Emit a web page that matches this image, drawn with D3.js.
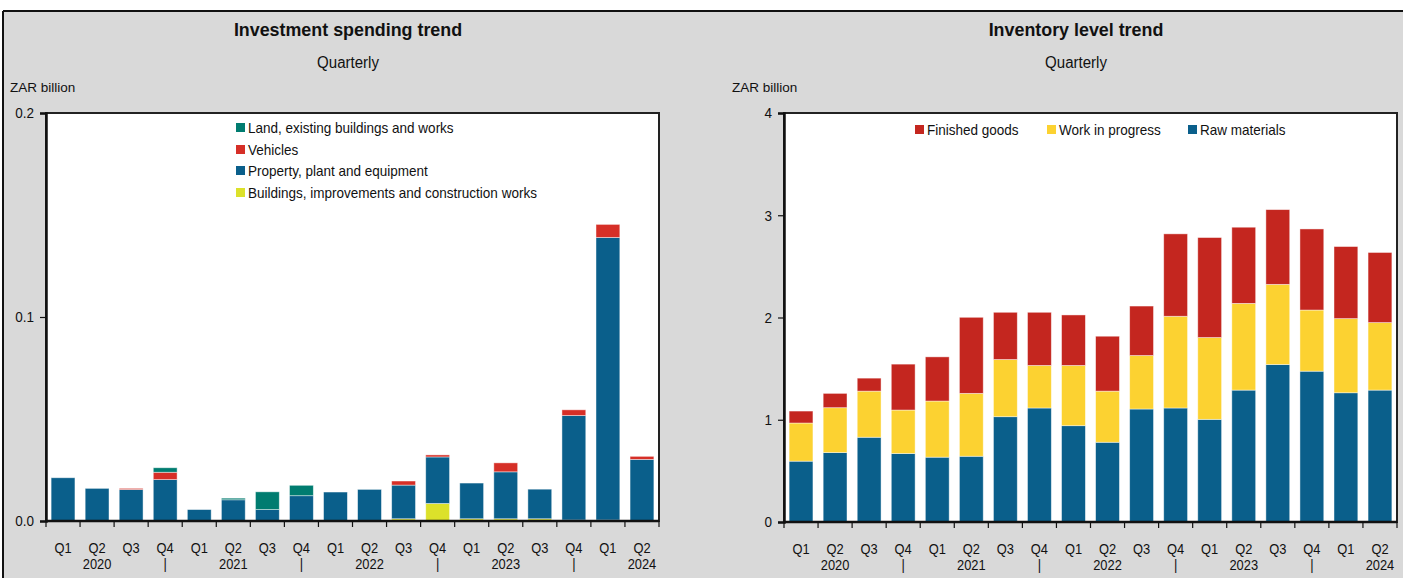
<!DOCTYPE html>
<html>
<head>
<meta charset="utf-8">
<script src="https://cdn.jsdelivr.net/npm/d3@7"></script>
<style>
  body { margin: 0; background: #fff; }
  text { font-family: "Liberation Sans Narrow", "Arial Narrow", "Liberation Sans", sans-serif; fill: #111; }
</style>
</head>
<body>
<div id="chart"></div>
<script>
// quarters and year row
const quarters = ["Q1","Q2","Q3","Q4","Q1","Q2","Q3","Q4","Q1","Q2","Q3","Q4","Q1","Q2","Q3","Q4","Q1","Q2"];
const yearRow  = ["","2020","","|","","2021","","|","","2022","","|","","2023","","|","","2024"];

// left chart: investment spending (ZAR billion)
const investKeys = ["Buildings, improvements and construction works", "Property, plant and equipment", "Vehicles", "Land, existing buildings and works"];
const buildings = [0, 0, 0, 0, 0, 0, 0, 0.0003, 0.0003, 0.0003, 0.0011, 0.0086, 0.0011, 0.0011, 0.0011, 0.0005, 0.0005, 0];
const ppe       = [0.0212, 0.016, 0.0154, 0.0203, 0.0056, 0.0104, 0.0056, 0.0121, 0.0139, 0.0152, 0.0165, 0.0228, 0.0175, 0.0230, 0.0145, 0.0512, 0.1385, 0.0302];
const vehicles  = [0, 0, 0.0006, 0.0036, 0, 0, 0, 0, 0, 0, 0.0020, 0.0010, 0, 0.0044, 0, 0.0028, 0.0064, 0.0015];
const land      = [0, 0, 0, 0.0022, 0, 0.0008, 0.0087, 0.0051, 0, 0, 0, 0, 0, 0, 0, 0, 0, 0];
const investTicks = [0, 0.1, 0.2];

// right chart: inventory levels (ZAR billion)
const invKeys = ["Raw materials", "Work in progress", "Finished goods"];
const rawMaterials = [0.595, 0.679, 0.829, 0.670, 0.634, 0.643, 1.030, 1.115, 0.942, 0.780, 1.105, 1.115, 1.004, 1.290, 1.540, 1.475, 1.264, 1.290];
const workInProgress = [0.373, 0.439, 0.451, 0.425, 0.549, 0.615, 0.559, 0.416, 0.589, 0.500, 0.523, 0.897, 0.800, 0.848, 0.784, 0.598, 0.725, 0.660];
const finishedGoods = [0.117, 0.140, 0.127, 0.449, 0.432, 0.744, 0.462, 0.520, 0.494, 0.537, 0.484, 0.806, 0.978, 0.745, 0.731, 0.793, 0.705, 0.686];
const invTicks = [0, 1, 2, 3, 4];

const W = 1403, H = 578;
const svg = d3.select("#chart").append("svg")
    .attr("width", W).attr("height", H);

// squeeze text horizontally, the original uses a narrow font
function condense(sel, f) {
    sel.each(function () {
        const w = this.getComputedTextLength();
        if (w > 0) d3.select(this).attr("textLength", w * f).attr("lengthAdjust", "spacingAndGlyphs");
    });
}

// grey backdrop with the dark frame on top/left
svg.append("rect").attr("x", 3).attr("y", 11).attr("width", W - 3).attr("height", H - 11).attr("fill", "#d9d9d9");
svg.append("line").attr("x1", 3).attr("x2", W).attr("y1", 11).attr("y2", 11).attr("stroke", "#111").attr("stroke-width", 2);
svg.append("line").attr("x1", 3).attr("x2", 3).attr("y1", 11).attr("y2", H).attr("stroke", "#111").attr("stroke-width", 2);

function drawPanel(opt) {
    const rows = quarters.map((q, i) => {
        const r = { idx: i };
        opt.keys.forEach((k, j) => r[k] = opt.series[j][i]);
        return r;
    });

    const x = d3.scaleBand()
        .domain(d3.range(quarters.length))
        .range([opt.left, opt.right])
        .paddingInner(0.3)
        .paddingOuter(0.15);

    const y = d3.scaleLinear()
        .domain([0, opt.max])
        .range([opt.bottom, opt.top]);

    // titles
    svg.append("text").attr("x", opt.titleX).attr("y", 36)
        .attr("text-anchor", "middle").attr("font-size", "19px").attr("font-weight", "bold")
        .text(opt.title)
        .call(condense, 0.94);
    svg.append("text").attr("x", opt.titleX).attr("y", 68)
        .attr("text-anchor", "middle").attr("font-size", "16px")
        .text("Quarterly")
        .call(condense, 0.94);
    svg.append("text").attr("x", opt.unitX).attr("y", 92)
        .attr("font-size", "13.5px")
        .text("ZAR billion");

    // plot area
    svg.append("rect")
        .attr("x", opt.left).attr("y", opt.top)
        .attr("width", opt.right - opt.left).attr("height", opt.bottom - opt.top)
        .attr("fill", "#fff").attr("stroke", "#222").attr("stroke-width", 2);

    const stacked = d3.stack().keys(opt.keys)(rows);

    svg.append("g")
        .selectAll("g")
        .data(stacked)
        .join("g")
            .attr("fill", d => opt.colors[d.key])
        .selectAll("rect")
        .data(d => d)
        .join("rect")
            .attr("x", d => x(d.data.idx))
            .attr("y", d => y(d[1]))
            .attr("width", x.bandwidth())
            .attr("height", d => Math.max(0, y(d[0]) - y(d[1])))
            .attr("stroke", "rgba(255,255,255,0.55)")
            .attr("stroke-width", 0.8);

    // y axis
    const yAxis = svg.append("g")
        .attr("transform", `translate(${opt.left},0)`)
        .call(d3.axisLeft(y).tickValues(opt.ticks).tickSize(6).tickPadding(6).tickFormat(opt.fmt));
    yAxis.select(".domain").attr("stroke", "#111").attr("stroke-width", 2.5);
    yAxis.selectAll(".tick line").attr("stroke", "#111").attr("stroke-width", 1.2);
    yAxis.selectAll(".tick text").attr("font-size", "15px").attr("fill", "#111")
        .style("font-family", "'Liberation Sans Narrow', 'Arial Narrow', 'Liberation Sans', sans-serif")
        .call(condense, 0.9);

    // x axis: ticks at band boundaries
    const edges = d3.range(quarters.length + 1).map(i => opt.left + i * (opt.right - opt.left) / quarters.length);
    svg.append("line")
        .attr("x1", opt.left).attr("x2", opt.right)
        .attr("y1", opt.bottom).attr("y2", opt.bottom)
        .attr("stroke", "#111").attr("stroke-width", 2.5);
    svg.append("g").selectAll("line")
        .data(edges)
        .join("line")
            .attr("x1", d => d).attr("x2", d => d)
            .attr("y1", opt.bottom).attr("y2", opt.bottom + 6)
            .attr("stroke", "#111").attr("stroke-width", 1.2);

    svg.append("g").selectAll("text")
        .data(quarters)
        .join("text")
            .attr("x", (d, i) => x(i) + x.bandwidth() / 2)
            .attr("y", opt.bottom + 32)
            .attr("text-anchor", "middle")
            .attr("font-size", "14px")
            .text(d => d)
            .call(condense, 0.92);

    svg.append("g").selectAll("text")
        .data(yearRow)
        .join("text")
            .attr("x", (d, i) => x(i) + x.bandwidth() / 2)
            .attr("y", opt.bottom + 48)
            .attr("text-anchor", "middle")
            .attr("font-size", "14px")
            .text(d => d)
            .call(condense, 0.92);

    // legend
    const legend = svg.append("g").selectAll("g")
        .data(opt.legend)
        .join("g")
            .attr("transform", d => `translate(${d.x},${d.y})`);
    legend.append("rect")
        .attr("x", 0).attr("y", -5)
        .attr("width", 9).attr("height", 9)
        .attr("fill", d => opt.colors[d.key]);
    legend.append("text")
        .attr("x", 12).attr("y", 0)
        .attr("dy", "0.35em")
        .attr("font-size", "15px")
        .text(d => d.key)
        .call(condense, 0.9);
}

drawPanel({
    title: "Investment spending trend",
    titleX: 348, unitX: 10,
    left: 46, right: 659, top: 113, bottom: 521,
    max: 0.2, ticks: investTicks, fmt: d3.format(".1f"),
    keys: investKeys,
    series: [buildings, ppe, vehicles, land],
    colors: {
        "Buildings, improvements and construction works": "#dce12a",
        "Property, plant and equipment": "#0a5f8b",
        "Vehicles": "#d62f27",
        "Land, existing buildings and works": "#007c70"
    },
    legend: [
        { key: "Land, existing buildings and works", x: 236, y: 128 },
        { key: "Vehicles", x: 236, y: 150 },
        { key: "Property, plant and equipment", x: 236, y: 171 },
        { key: "Buildings, improvements and construction works", x: 236, y: 193 }
    ]
});

drawPanel({
    title: "Inventory level trend",
    titleX: 1076, unitX: 732,
    left: 784, right: 1397, top: 113, bottom: 522,
    max: 4, ticks: invTicks, fmt: d3.format("d"),
    keys: invKeys,
    series: [rawMaterials, workInProgress, finishedGoods],
    colors: {
        "Raw materials": "#0a5f8b",
        "Work in progress": "#fcd231",
        "Finished goods": "#c4261f"
    },
    legend: [
        { key: "Finished goods", x: 915, y: 130 },
        { key: "Work in progress", x: 1047, y: 130 },
        { key: "Raw materials", x: 1188, y: 130 }
    ]
});
</script>
</body>
</html>
